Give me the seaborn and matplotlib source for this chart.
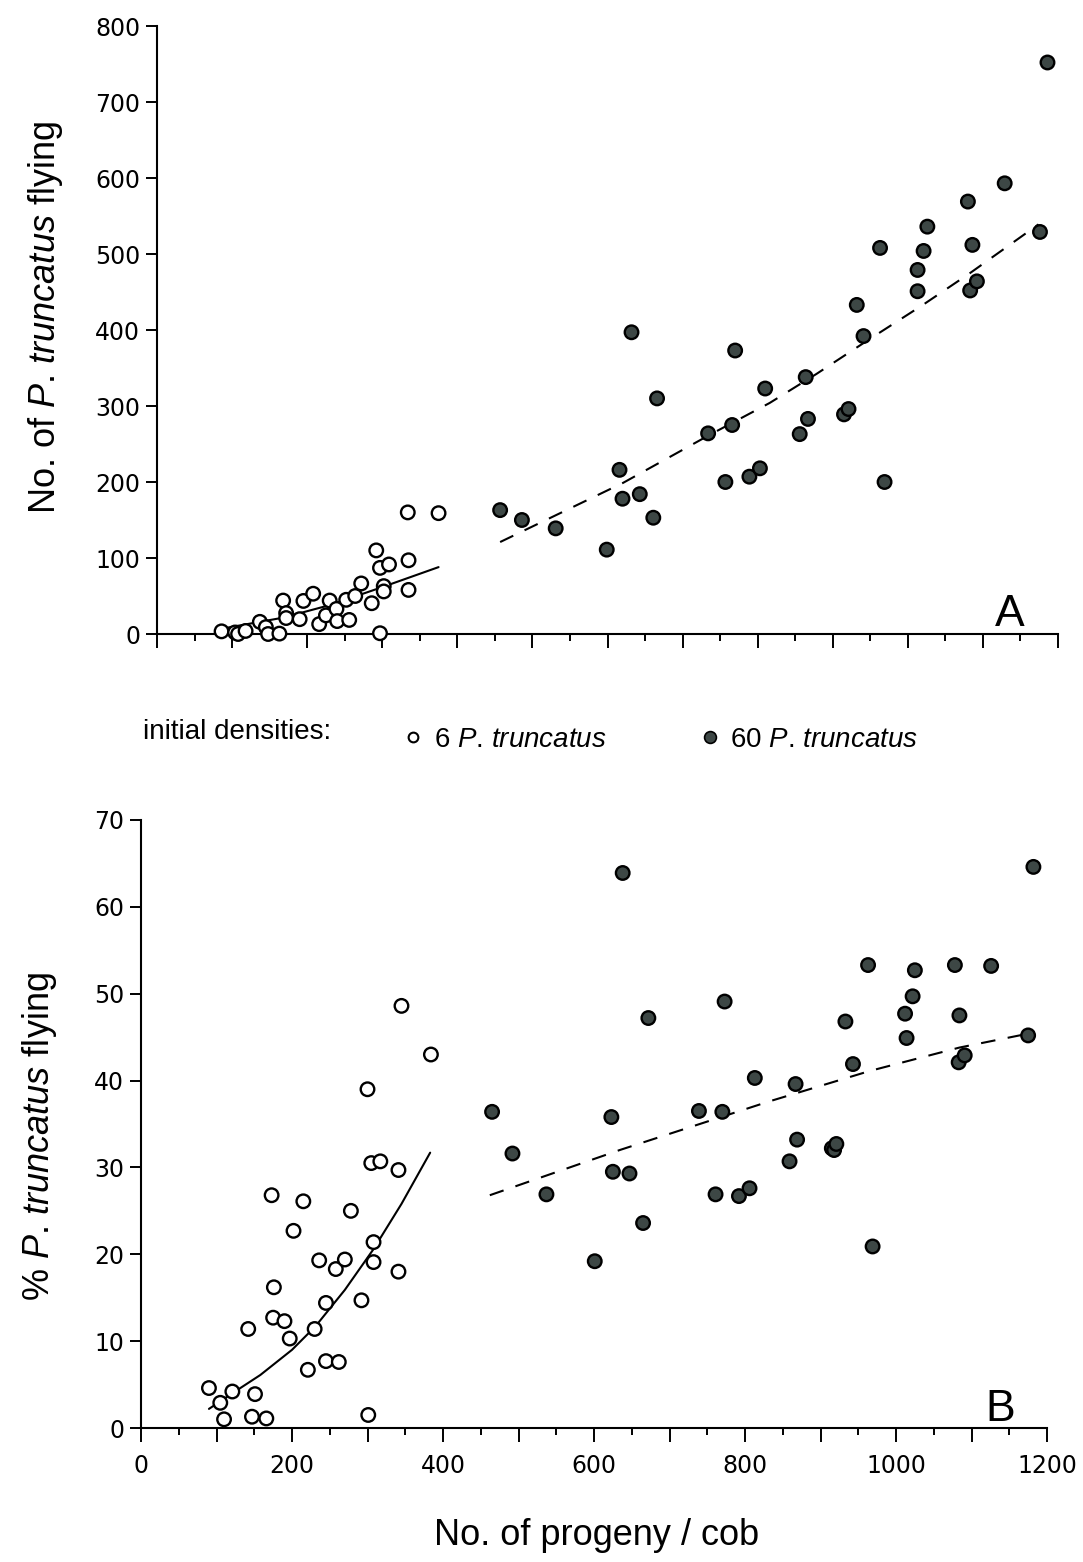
import numpy as np
import pandas as pd
import matplotlib
matplotlib.use('Agg')
import matplotlib.pyplot as plt
from matplotlib.lines import Line2D
from matplotlib.ticker import MultipleLocator, FuncFormatter
from matplotlib import font_manager
import seaborn as sns

# panel A: number of P. truncatus flying vs progeny per cob
a6_x = [86, 104, 108, 118, 137, 145, 148, 163, 168, 172, 172, 190, 195, 208, 216, 225, 230,
        239, 240, 252, 256, 264, 272, 286, 292, 297, 309, 297, 302, 302, 335, 335, 334, 375]
a6_y = [3.5, 2, 0, 4, 16, 9, 0, 0.5, 44, 27.5, 21, 19.5, 43.5, 53, 13, 24.5, 44,
        33, 17, 45, 18.5, 50, 66.5, 40.5, 110, 87, 91.5, 1, 63, 56, 97, 58, 160, 159]
a60_x = [457, 486, 531, 599, 616, 620, 643, 661, 632, 666, 734, 766, 757, 789, 803, 770, 810,
         864, 867, 856, 915, 921, 932, 941, 963, 969, 1013, 1013, 1021, 1026, 1080, 1086,
         1083, 1092, 1129, 1176, 1186]
a60_y = [163, 150, 139, 111, 216, 178, 184, 153, 397, 310, 264, 275, 200, 207, 218, 373, 323,
         338, 283, 263, 289, 296, 433, 392, 508, 200, 451, 479, 504, 536, 569, 512,
         452, 464, 593, 529, 752]

# fitted curves
fit_a6_x = [92, 168, 230, 298, 375]
fit_a6_y = [8, 21.5, 38, 61, 88]
fit_a60_x = [457, 621, 736, 816, 878, 949, 1020, 1083, 1174]
fit_a60_y = [121, 199, 262, 304, 342, 388, 433, 475, 539]

# panel B: % P. truncatus flying vs progeny per cob
b6_x = [90, 105, 110, 121, 142, 147, 151, 166, 173, 176, 175, 190, 197, 202, 215, 221, 230, 236,
        245, 245, 258, 262, 270, 278, 292, 300, 301, 305, 308, 308, 317, 341, 341, 345, 384]
b6_y = [4.6, 2.9, 1.0, 4.2, 11.4, 1.3, 3.9, 1.1, 26.8, 16.2, 12.7, 12.3, 10.3, 22.7, 26.1, 6.7,
        11.4, 19.3, 14.4, 7.7, 18.3, 7.6, 19.4, 25.0, 14.7, 39.0, 1.5, 30.5, 21.4, 19.1, 30.7,
        29.7, 18.0, 48.6, 43.0]
b60_x = [465, 492, 537, 601, 623, 625, 638, 647, 665, 672, 739, 761, 770, 773, 792, 806, 813,
         859, 867, 869, 915, 918, 921, 933, 943, 963, 969, 1012, 1014, 1022, 1025, 1078, 1083,
         1084, 1091, 1126, 1175, 1182]
b60_y = [36.4, 31.6, 26.9, 19.2, 35.8, 29.5, 63.9, 29.3, 23.6, 47.2, 36.5, 26.9, 36.4, 49.1,
         26.7, 27.6, 40.3, 30.7, 39.6, 33.2, 32.2, 32.0, 32.7, 46.8, 41.9, 53.3, 20.9, 47.7,
         44.9, 49.7, 52.7, 53.3, 42.1, 47.5, 42.9, 53.2, 45.2, 64.6]

fit_b6_x = [90, 121, 158, 200, 231, 270, 308, 345, 383]
fit_b6_y = [2.2, 4.0, 6.1, 9.0, 11.7, 15.9, 20.6, 25.8, 31.7]
fit_b60_x = [462, 634, 832, 965, 1084, 1175]
fit_b60_y = [26.8, 32.0, 37.6, 41.1, 43.8, 45.4]

FILL = '#3d4745'

sns.set_theme(style='ticks')
names = {f.name for f in font_manager.fontManager.ttflist}
narrow = 'Liberation Sans Narrow' if 'Liberation Sans Narrow' in names else 'Liberation Sans'
plt.rcParams['font.family'] = ['DejaVu Sans']
plt.rcParams['mathtext.fontset'] = 'custom'
plt.rcParams['mathtext.rm'] = narrow
plt.rcParams['mathtext.it'] = narrow + ':italic'
for k in ['text.color', 'axes.labelcolor', 'xtick.color', 'ytick.color',
          'xtick.labelcolor', 'ytick.labelcolor']:
    plt.rcParams[k] = 'black'

W, H = 1083, 1562
fig = plt.figure(figsize=(W / 100, H / 100), dpi=100)
fig.patch.set_facecolor('white')
axA = fig.add_axes([157 / W, 1 - 634 / H, 901 / W, 608 / H])
axB = fig.add_axes([141 / W, 1 - 1428 / H, 906 / W, 608 / H])


def frame(x6, y6, x60, y60, col):
    return pd.concat([
        pd.DataFrame({'progeny': x6, col: y6, 'density': '6'}),
        pd.DataFrame({'progeny': x60, col: y60, 'density': '60'}),
    ], ignore_index=True)


dfA = frame(a6_x, a6_y, a60_x, a60_y, 'flying')
dfB = frame(b6_x, b6_y, b60_x, b60_y, 'pct')
pal = {'6': 'white', '60': FILL}

for ax, df, col, f6, f60 in [
    (axA, dfA, 'flying', (fit_a6_x, fit_a6_y), (fit_a60_x, fit_a60_y)),
    (axB, dfB, 'pct', (fit_b6_x, fit_b6_y), (fit_b60_x, fit_b60_y)),
]:
    sns.lineplot(x=f6[0], y=f6[1], color='black', lw=1.5, ax=ax, zorder=2)
    sns.lineplot(x=f60[0], y=f60[1], color='black', lw=1.5, ax=ax, zorder=2,
                 linestyle=(0, (7, 6)))
    sns.scatterplot(data=df, x='progeny', y=col, hue='density', palette=pal, s=95,
                    edgecolor='black', linewidth=1.7, legend=False, ax=ax,
                    clip_on=False, zorder=3)
    ax.set_xlim(0, 1200)
    ax.xaxis.set_major_locator(MultipleLocator(100))
    ax.xaxis.set_minor_locator(MultipleLocator(50))
    ax.tick_params(axis='x', which='major', length=10, width=1.4, direction='out',
                   pad=9, labelsize=17)
    ax.tick_params(axis='x', which='minor', length=5, width=1.4, direction='out')
    ax.tick_params(axis='y', length=8, width=1.4, direction='out', pad=4, labelsize=17)
    ax.set_xlabel('')
    ax.set_ylabel('')
    sns.despine(ax=ax)
    for s in ['left', 'bottom']:
        ax.spines[s].set_linewidth(1.5)
        ax.spines[s].set_color('black')

axA.set_ylim(0, 800)
axA.yaxis.set_major_locator(MultipleLocator(100))
axA.tick_params(axis='x', labelbottom=False)

axB.set_ylim(0, 70)
axB.yaxis.set_major_locator(MultipleLocator(10))
axB.xaxis.set_major_formatter(FuncFormatter(lambda v, p: f'{v:.0f}' if v % 200 == 0 else ''))

axA.set_ylabel(r'No. of $\mathit{P}$. $\mathit{truncatus}$ flying', fontsize=26, family=narrow)
axA.yaxis.set_label_coords(-0.124, 0.52)
axA.yaxis.label.set_va('center')
axB.set_ylabel(r'% $\mathit{P}$. $\mathit{truncatus}$ flying', fontsize=26, family=narrow)
axB.yaxis.set_label_coords(-0.112, 0.479)
axB.yaxis.label.set_va('center')
axB.set_xlabel('No. of progeny / cob', fontsize=26, family=narrow)
axB.xaxis.set_label_coords(0.503, -0.176)
axB.xaxis.label.set_va('center')

axA.text(1116, 10, 'A', fontsize=32, family='Liberation Sans', ha='left', va='baseline')
axB.text(1118, 0.8, 'B', fontsize=32, family='Liberation Sans', ha='left', va='baseline')

fig.text(143 / W, 1 - 732 / H, 'initial densities:', fontsize=20, family=narrow,
         ha='left', va='center')
handles = [
    Line2D([], [], ls='none', marker='o', ms=7, mfc='white', mec='black', mew=1.5),
    Line2D([], [], ls='none', marker='o', ms=8.5, mfc=FILL, mec='black', mew=1.2),
]
labels = [r'6 $\mathit{P}$. $\mathit{truncatus}$', r'60 $\mathit{P}$. $\mathit{truncatus}$']
fig.legend(handles, labels, loc='center left', bbox_to_anchor=(405 / W, 1 - 740 / H),
           ncol=2, frameon=False, handlelength=0.6, handletextpad=0.45,
           columnspacing=3.4, borderpad=0, borderaxespad=0,
           prop={'family': narrow, 'size': 20})

fig.savefig('out.png', dpi=100, facecolor='white')
